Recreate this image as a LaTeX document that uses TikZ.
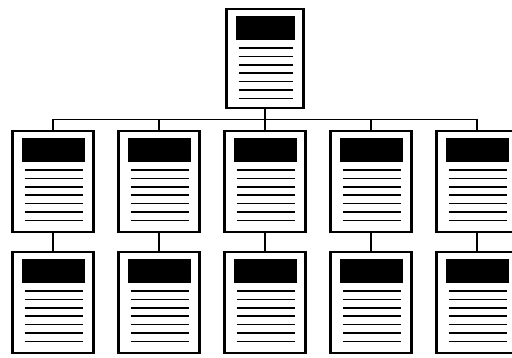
\documentclass[tikz,border=0pt]{standalone}
\usepackage{tikz}
\usetikzlibrary{positioning}

\begin{document}
\begin{tikzpicture}[x=1pt,y=-1pt]
	\tikzset{page/.style={draw, line width=2.4pt, fill=white, inner sep=0pt, outer sep=0pt,
			minimum width=81pt, minimum height=101pt,
			path picture={ % header bar and text lines
				\fill[black] ([xshift=9pt,yshift=-7pt]path picture bounding box.north west) rectangle ([xshift=-9pt,yshift=-31pt]path picture bounding box.north east);
				\foreach \i in {0,...,6}
				\draw[line width=1.7pt] ([xshift=12pt,yshift=-39pt-\i*8.4pt]path picture bounding box.north west) -- ([xshift=-11pt,yshift=-39pt-\i*8.4pt]path picture bounding box.north east);
			}},
		link/.style={draw, line width=1.8pt},
	}
	\useasboundingbox (0,0) rectangle (512,358);
	\node [page] (a1) at (53,181.5) {};
	\node [page, right = 25pt of a1] (a2) {};
	\node [page, right = 25pt of a2] (a3) {};
	\node [page, right = 25pt of a3] (a4) {};
	\node [page, right = 25pt of a4] (a5) {};
	\node [page, below = 20pt of a1] (b1) {};
	\node [page, below = 20pt of a2] (b2) {};
	\node [page, below = 20pt of a3] (b3) {};
	\node [page, below = 20pt of a4] (b4) {};
	\node [page, below = 20pt of a5] (b5) {};
	\node [page, above = 23pt of a3, minimum width=77pt, minimum height=99pt] (p0) {};
	\path (p0.south) -- (a3.north) coordinate[pos=.5] (bus);
	\draw [link] (p0.south) -- (bus);
	\draw [link] (a1.north) -- (a1.north |- bus) -- (a5.north |- bus) -- (a5.north);
	\foreach \c in {2,3,4}
	\draw [link] (a\c.north |- bus) -- (a\c.north);
	\foreach \c in {1,...,5}
	\draw [link] (a\c.south) -- (b\c.north);
\end{tikzpicture}
\end{document}
